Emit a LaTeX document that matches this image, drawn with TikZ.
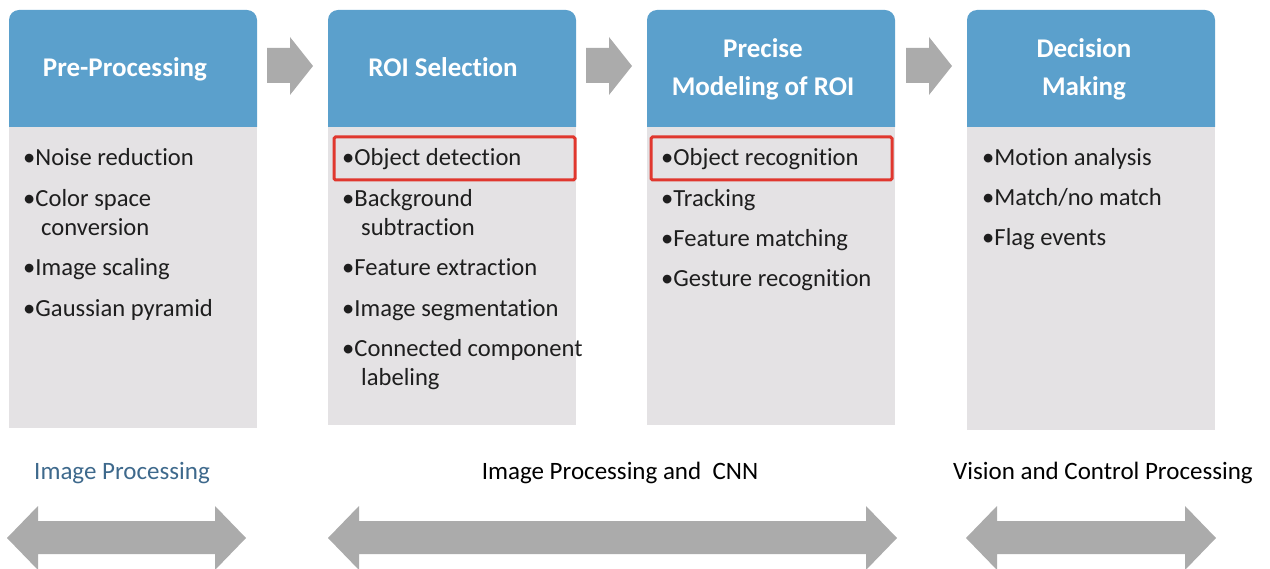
\documentclass[tikz,border=0pt]{standalone}
\usepackage{fontspec}
\setmainfont{Carlito}[Ligatures=CommonOff]
\definecolor{hdrblue}{RGB}{91,160,204}
\definecolor{bodygray}{RGB}{228,226,228}
\definecolor{arrowgray}{RGB}{171,171,171}
\definecolor{hlred}{RGB}{224,55,46}
\definecolor{spanblue}{RGB}{62,105,140}
\definecolor{itemtxt}{RGB}{30,30,30}

\begin{document}
\begin{tikzpicture}[x=1pt,y=-1pt,
  hdrtext/.style={anchor=base, inner sep=0pt, text=white, font=\fontsize{27}{32}\selectfont\bfseries},
  item/.style={anchor=base west, inner sep=0pt, text=itemtxt, font=\fontsize{24.6}{29}\selectfont},
  spanlabel/.style={anchor=base, inner sep=0pt, font=\fontsize{25}{30}\selectfont},
  hilite/.style={draw=hlred, line width=3pt, rounded corners=1.5pt},
  blockarrow/.style={fill=arrowgray}
]
\useasboundingbox (0,0) rectangle (1270,569);

% column panels: gray body, blue header with rounded top corners
% (left edge, body bottom)
\foreach \L/\B in {9/428, 328/425, 647/425, 967/430}{
  \fill[bodygray] (\L,127) rectangle (\L+248,\B);
  \fill[hdrblue] (\L,127) {[rounded corners=10pt] -- (\L,10) -- (\L+248,10)} -- (\L+248,127) -- cycle;
}

% flow arrows between the stages
\foreach \X in {267, 586, 906}{
  \fill[blockarrow] (\X,48) -- (\X+23,48) -- (\X+23,37) -- (\X+46,66) -- (\X+23,95) -- (\X+23,83) -- (\X,83) -- cycle;
}

% header titles
\node[hdrtext] (h1) at (125,77) {Pre-Processing};
\node[hdrtext] (h2) at (443,77) {ROI Selection};
\node[hdrtext] (h3a) at (763,58) {Precise};
\node[hdrtext] (h3b) at (763,96) {Modeling of ROI};
\node[hdrtext] (h4a) at (1084,58) {Decision};
\node[hdrtext] (h4b) at (1084,96) {Making};

% stage 1 items
\node[item] (a1) at (23,166) {•Noise reduction};
\node[item] (a2) at (23,207) {•Color space};
\node[item] (a2b) at (41,236) {conversion};
\node[item] (a3) at (23,276) {•Image scaling};
\node[item] (a4) at (23,317) {•Gaussian pyramid};

% stage 2 items
\node[item] (b1) at (342,166) {•Object detection};
\node[item] (b2) at (342,207) {•Background};
\node[item] (b2b) at (361,236) {subtraction};
\node[item] (b3) at (342,276) {•Feature extraction};
\node[item] (b4) at (342,317) {•Image segmentation};
\node[item] (b5) at (342,357) {•Connected component};
\node[item] (b5b) at (361,386) {labeling};

% stage 3 items
\node[item] (c1) at (661,166) {•Object recognition};
\node[item] (c2) at (661,207) {•Tracking};
\node[item] (c3) at (661,247) {•Feature matching};
\node[item] (c4) at (661,287) {•Gesture recognition};

% stage 4 items
\node[item] (d1) at (982,166) {•Motion analysis};
\node[item] (d2) at (982,206) {•Match/no match};
\node[item] (d3) at (982,246) {•Flag events};

% highlighted items
\draw[hilite] (334,137) rectangle (575,180);
\draw[hilite] (651,137) rectangle (892,180);

% processing domains
\node[spanlabel, text=spanblue] (s1) at (122,479) {Image Processing};
\node[spanlabel, text=black] (s2) at (620,479) {Image Processing and\ \ CNN};
\node[spanlabel, text=black] (s3) at (1103,479) {Vision and Control Processing};

% double-headed span arrows
\foreach \A/\Z in {7/246, 328/897, 966/1216}{
  \fill[blockarrow] (\A,538) -- (\A+31,506) -- (\A+31,521) -- (\Z-31,521) -- (\Z-31,506) -- (\Z,538)
    -- (\Z-31,570) -- (\Z-31,554) -- (\A+31,554) -- (\A+31,570) -- cycle;
}
\end{tikzpicture}
\end{document}
